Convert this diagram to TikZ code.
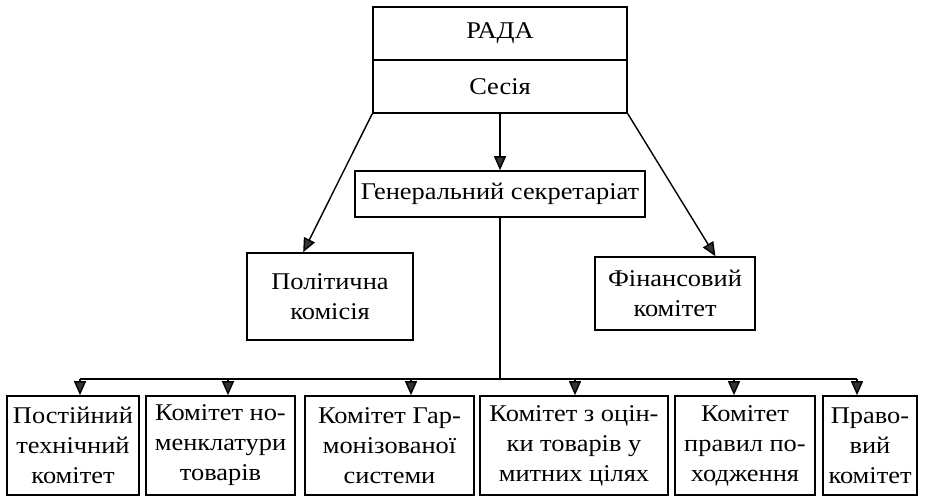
\documentclass[tikz,border=0pt]{standalone}
\usepackage{fontspec}
\setmainfont{Liberation Serif}[FakeStretch=1.1]
\usetikzlibrary{arrows.meta,calc}
\begin{document}
\begin{tikzpicture}[x=1pt,y=-1pt,
  box/.style={draw, line width=1.6pt, inner sep=0pt, align=center,
    font=\fontsize{24}{30}\selectfont},
  conn/.style={line width=1.4pt},
  arr/.style={conn, -{Triangle[width=12pt,length=14pt,fill=black!80]}}]
\useasboundingbox (0,0) rectangle (928,500);
% top
\node[box, minimum width=254pt, minimum height=53pt] (rada) at (500,33.5) {РАДА};
\node[box, minimum width=254pt, minimum height=53pt] (ses) at (500,86.5) {Сесія};
\node[box, minimum width=290pt, minimum height=46pt] (sec) at (500,194) {Генеральний секретаріат};
\node[box, minimum width=166pt, minimum height=87pt] (pol) at (330,296.5) {Політична\\комісія};
\node[box, minimum width=160pt, minimum height=73pt] (fin) at (675,293.5) {Фінансовий\\комітет};
% bottom row
\node[box, minimum width=132pt, minimum height=99pt] (b1) at (73,445.5) {Постійний\\технічний\\комітет};
\node[box, minimum width=149pt, minimum height=99pt] (b2) at (220.5,445.5) {Комітет но-\\менклатури\\товарів};
\node[box, minimum width=169pt, minimum height=99pt] (b3) at (389.5,445.5) {Комітет Гар-\\монізованої\\системи};
\node[box, minimum width=188pt, minimum height=99pt] (b4) at (574,445.5) {Комітет з оцін-\\ки товарів у\\митних цілях};
\node[box, minimum width=140pt, minimum height=99pt] (b5) at (745,445.5) {Комітет\\правил по-\\ходження};
\node[box, minimum width=94pt, minimum height=99pt] (b6) at (870,445.5) {Право-\\вий\\комітет};
% connectors
\draw[arr] (ses.south) -- (sec.north);
\draw[arr] (ses.south west) -- ($(pol.north west)!0.34!(pol.north east)$);
\draw[arr] (ses.south east) -- ($(fin.north west)!0.75!(fin.north east)$);
\coordinate (t1) at (80,379);
\coordinate (t2) at (228,379);
\coordinate (t3) at (411,379);
\coordinate (t4) at (575,379);
\coordinate (t5) at (734,379);
\coordinate (t6) at (857,379);
\draw[conn] (t1) -- (t6);
\draw[conn] (sec.south) -- (sec.south |- t1);
\foreach \i in {1,...,6} {
  \draw[arr] (t\i) -- (t\i |- b\i.north);
}
\end{tikzpicture}
\end{document}
